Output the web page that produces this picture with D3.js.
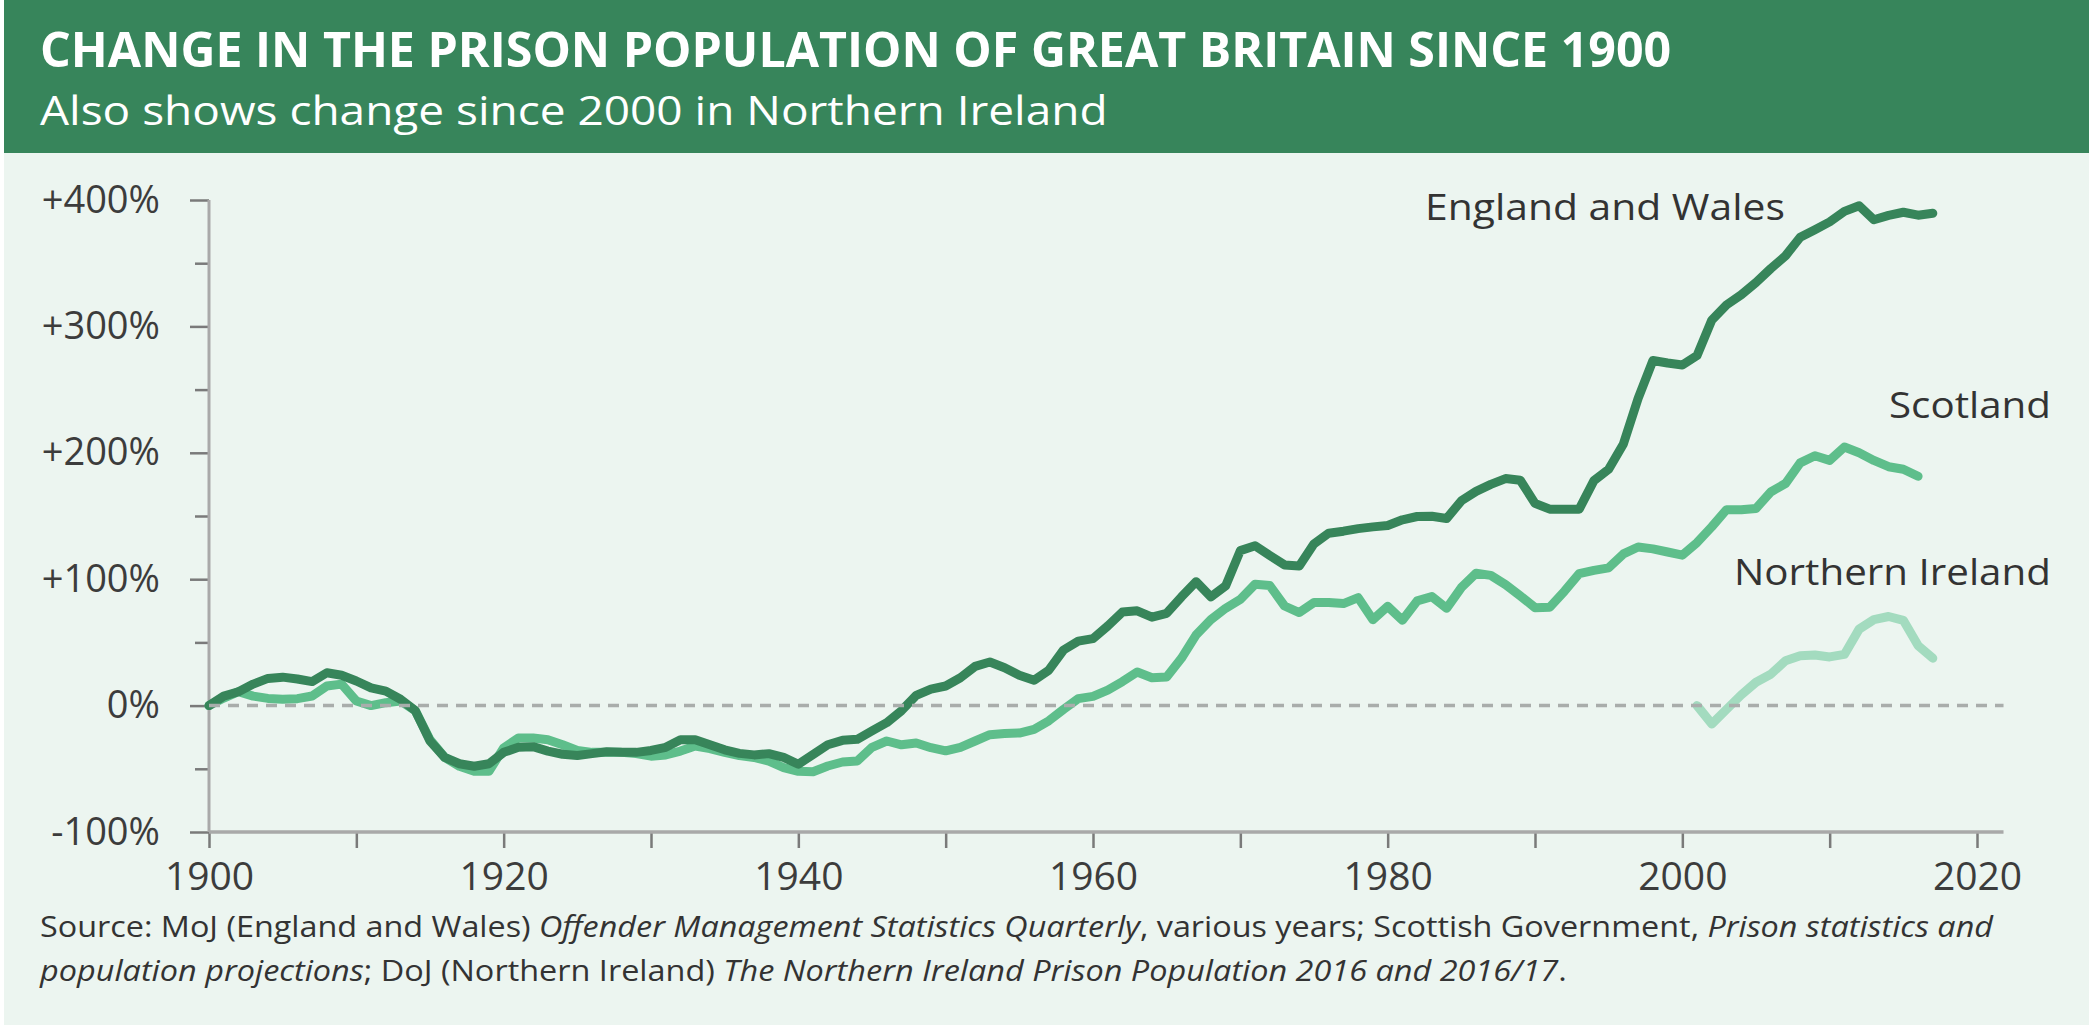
<!DOCTYPE html>
<html>
<head>
<meta charset="utf-8">
<script src="https://cdn.jsdelivr.net/npm/d3@7"></script>
<style>
  html, body { margin: 0; padding: 0; background: #fff; }
  svg { display: block; font-family: 'Open Sans', sans-serif; }
</style>
</head>
<body>
<svg id="chart" width="2089" height="1025"></svg>
<script>
// % change in prison population since the first year of each series
const ewStart = 1900;
const ewValues = [
  0, 7.5, 11, 17, 21.5, 22.5, 21, 19, 26, 24,
  19.5, 14, 11.5, 5, -4, -28, -41, -46, -48, -46,
  -37, -33, -32.5, -36, -38.5, -39.5, -38, -36.5, -37, -37,
  -35.5, -33, -27, -27, -31, -35, -37.8, -39, -38, -41,
  -46.4, -38.6, -31, -27.5, -26.7, -20, -13.5, -4, 8, 13,
  15.5, 22, 31, 34.5, 30, 24, 20, 28, 44, 51,
  53, 63, 74, 75, 70, 73, 86, 98, 86, 94.7,
  122.6, 126.4, 118.7, 111.3, 110.5, 128, 136.4, 138, 140, 141.4,
  142.5, 147, 149.6, 149.8, 148, 162, 169.5, 175, 179.6, 178.3,
  160, 155.4, 155.4, 155.4, 178, 187, 207, 243, 273, 271,
  269.5, 277, 305, 317, 325, 334.7, 345.7, 355.8, 370.5, 376.5,
  382.7, 391, 395.4, 384.4, 387.8, 390.3, 388, 389.5
];

const scStart = 1900;
const scValues = [
  0, 6, 11, 7.5, 5.7, 5, 5.5, 7.6, 15.5, 17,
  3.6, 0, 2.3, 3.6, -4, -27, -41, -48, -52, -52,
  -33.5, -25.6, -25.6, -27, -31, -35.5, -37, -37, -37, -38,
  -40, -39, -36, -32, -34, -37, -39.6, -41, -44, -49,
  -52, -52.3, -47.8, -44.6, -43.8, -33, -28, -31, -29.6, -33.3,
  -35.8, -33, -28, -23, -22, -21.7, -18.8, -12, -3, 5.5,
  7.3, 12.3, 19, 26.6, 22, 22.6, 37.4, 55.9, 68, 77,
  84, 96, 95, 78.8, 73.6, 81.5, 81.5, 80.7, 85.4, 68,
  78.5, 67.5, 82.8, 86.2, 77, 93.4, 104.7, 103, 95.7, 86.8,
  77.5, 77.8, 90.5, 104.4, 107, 109, 120, 125.5, 124, 121.5,
  119, 129, 141.5, 155, 155, 156, 169, 175.7, 192, 197.7,
  194, 204.6, 200, 194, 189, 187, 181.4
];

const niStart = 2001;
const niValues = [0, -14.5, -3, 8.5, 18.5, 24.8, 35.5, 39.5, 40, 38.5, 40.5, 60.5, 68, 70.5, 67.5, 47.5, 37.5];

const yMajorTicks = [-100, 0, 100, 200, 300, 400];
const yMinorTicks = [-50, 50, 150, 250, 350];
const xTicks = [1900, 1910, 1920, 1930, 1940, 1950, 1960, 1970, 1980, 1990, 2000, 2010, 2020];
const xAxisEnd = 2021.8;

const title = 'CHANGE IN THE PRISON POPULATION OF GREAT BRITAIN SINCE 1900';
const subtitle = 'Also shows change since 2000 in Northern Ireland';

const W = 2089, H = 1025;
const svg = d3.select('#chart');

// backgrounds
svg.append('rect').attr('x', 4).attr('y', 0).attr('width', W - 4).attr('height', H).attr('fill', '#ECF5F0');
svg.append('rect').attr('x', 4).attr('y', 0).attr('width', W - 4).attr('height', 153).attr('fill', '#37855B');

// squeeze/stretch a text horizontally so it covers a given width
function fitText(sel, x, y, width, anchor) {
  const w = sel.node().getComputedTextLength();
  const k = width / w;
  const tx = anchor === 'end' ? x - width : x;
  sel.attr('text-anchor', 'start').attr('transform', `translate(${tx},${y}) scale(${k},1)`);
}

fitText(svg.append('text').attr('fill', '#fff').attr('font-size', 48).attr('font-weight', 700).text(title), 40, 67, 1632);
fitText(svg.append('text').attr('fill', '#fff').attr('font-size', 40).text(subtitle), 40, 125, 1068);

// scales
const x = d3.scaleLinear().domain([1900, 2020]).range([209, 1977]);
const y = d3.scaleLinear().domain([-100, 400]).range([832, 200]);

// axes
const gMinor = svg.append('g').attr('transform', `translate(${x(1900)},0)`)
  .call(d3.axisLeft(y).tickValues(yMinorTicks).tickSize(14).tickFormat(''));
const gy = svg.append('g').attr('transform', `translate(${x(1900)},0)`)
  .call(d3.axisLeft(y).tickValues(yMajorTicks).tickSize(19).tickPadding(30)
    .tickFormat(d => (d > 0 ? '+' : '') + d + '%'));
const gx = svg.append('g').attr('transform', `translate(0,${y(-100)})`)
  .call(d3.axisBottom(x).tickValues(xTicks).tickSize(16).tickPadding(14)
    .tickFormat(d => d % 20 === 0 ? d : ''));

[gMinor, gy, gx].forEach(g => {
  g.select('.domain').remove();
  g.selectAll('.tick line').attr('stroke', '#7a7a7a').attr('stroke-width', 2.5);
  g.selectAll('.tick text').attr('fill', '#3c3c3c').attr('font-family', "'Open Sans', sans-serif");
});
gy.selectAll('.tick text').attr('font-size', 38);
gx.selectAll('.tick text').attr('font-size', 39);

svg.append('line')
  .attr('x1', x(1900)).attr('x2', x(1900)).attr('y1', y(400)).attr('y2', y(-100))
  .attr('stroke', '#a9a9a9').attr('stroke-width', 3);
svg.append('line')
  .attr('x1', x(1900)).attr('x2', x(xAxisEnd)).attr('y1', y(-100)).attr('y2', y(-100))
  .attr('stroke', '#a9a9a9').attr('stroke-width', 3.5);

// series lines
const line = d3.line().x(d => x(d.year)).y(d => y(d.value));
const toPoints = (start, values) => values.map((v, i) => ({ year: start + i, value: v }));

const series = [
  { name: 'Scotland', color: '#5EBE8B', points: toPoints(scStart, scValues) },
  { name: 'Northern Ireland', color: '#A3DBBF', points: toPoints(niStart, niValues) },
  { name: 'England and Wales', color: '#37855A', points: toPoints(ewStart, ewValues) }
];

svg.append('g').selectAll('path')
  .data(series).enter().append('path')
  .attr('d', d => line(d.points))
  .attr('fill', 'none')
  .attr('stroke', d => d.color)
  .attr('stroke-width', 9)
  .attr('stroke-linejoin', 'round')
  .attr('stroke-linecap', 'round');

// zero reference line (on top of the lines)
svg.append('line')
  .attr('x1', x(1900)).attr('x2', x(xAxisEnd)).attr('y1', y(0)).attr('y2', y(0))
  .attr('stroke', '#a9adab').attr('stroke-width', 3.5).attr('stroke-dasharray', '11,8');

// series labels
const labelStyle = s => s.attr('fill', '#333').attr('font-size', 36);
fitText(svg.append('text').call(labelStyle).text('England and Wales'), 1425, 220, 360);
fitText(svg.append('text').call(labelStyle).text('Scotland'), 2051, 418, 162, 'end');
fitText(svg.append('text').call(labelStyle).text('Northern Ireland'), 2051, 585, 317, 'end');

// source note
const note1 = svg.append('text').attr('fill', '#333').attr('font-size', 30);
note1.append('tspan').text('Source: MoJ (England and Wales) ');
note1.append('tspan').attr('font-style', 'italic').text('Offender Management Statistics Quarterly');
note1.append('tspan').text(', various years; Scottish Government, ');
note1.append('tspan').attr('font-style', 'italic').text('Prison statistics and');
fitText(note1, 40, 937, 1954);

const note2 = svg.append('text').attr('fill', '#333').attr('font-size', 30);
note2.append('tspan').attr('font-style', 'italic').text('population projections');
note2.append('tspan').text('; DoJ (Northern Ireland) ');
note2.append('tspan').attr('font-style', 'italic').text('The Northern Ireland Prison Population 2016 and 2016/17');
note2.append('tspan').text('.');
fitText(note2, 40, 981, 1527);
</script>
</body>
</html>
